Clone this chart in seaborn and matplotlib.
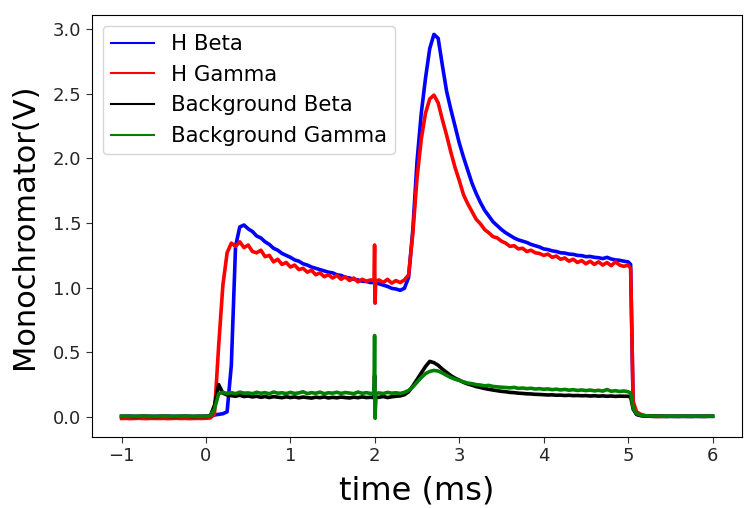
import numpy as np
import pandas as pd
import matplotlib
matplotlib.use("Agg")
import matplotlib.pyplot as plt
import seaborn as sns

# Sample times (ms): coarse grid plus extra samples around the 2 ms glitch and the 5 ms cut-off
t_ms = np.concatenate([
    np.arange(-1.0, 1.951, 0.05),      # -1.00 .. 1.95  (60)
    [1.99, 1.997, 2.003, 2.01],        # glitch          (4)
    np.arange(2.05, 4.951, 0.05),      # 2.05 .. 4.95   (59)
    [5.0, 5.03, 5.06, 5.1],            # cut-off         (4)
    np.arange(5.15, 6.001, 0.05),      # 5.15 .. 6.00   (18)
])

h_beta = (
    [0.004, 0.003, 0.005, 0.004, 0.003, 0.004, 0.005, 0.003, 0.004, 0.004,
     0.003, 0.005, 0.004, 0.003, 0.004, 0.005, 0.004, 0.003, 0.004, 0.004]
    + [0.005, 0.006, 0.015, 0.020, 0.025, 0.040, 0.400, 1.320, 1.470, 1.485]
    + [1.455, 1.435, 1.400, 1.385, 1.355, 1.335, 1.305, 1.290, 1.265, 1.250]
    + [1.235, 1.215, 1.205, 1.185, 1.175, 1.160, 1.150, 1.140, 1.130, 1.120]
    + [1.115, 1.100, 1.095, 1.080, 1.075, 1.065, 1.060, 1.050, 1.048, 1.040]
    + [1.040, 1.045, 1.035, 1.035]
    + [1.030, 1.020, 1.010, 0.995, 0.990, 0.980, 0.995, 1.080, 1.450]
    + [1.980, 2.350, 2.620, 2.850, 2.960, 2.930, 2.720, 2.520, 2.380, 2.250]
    + [2.120, 2.010, 1.910, 1.810, 1.730, 1.660, 1.600, 1.555, 1.510, 1.480]
    + [1.450, 1.425, 1.405, 1.385, 1.370, 1.360, 1.350, 1.335, 1.325, 1.315]
    + [1.300, 1.295, 1.285, 1.280, 1.270, 1.268, 1.260, 1.258, 1.250, 1.248]
    + [1.240, 1.242, 1.235, 1.232, 1.225, 1.235, 1.222, 1.215, 1.212, 1.205]
    + [1.200, 1.180, 0.080, 0.020]
    + [0.010, 0.007, 0.006, 0.005, 0.005, 0.006, 0.005, 0.005, 0.004,
       0.005, 0.005, 0.004, 0.005, 0.005, 0.004, 0.005, 0.005, 0.005]
)

h_gamma = (
    [-0.012, -0.011, -0.013, -0.012, -0.010, -0.012, -0.013, -0.011, -0.012, -0.012,
     -0.011, -0.013, -0.012, -0.010, -0.012, -0.011, -0.013, -0.012, -0.011, -0.012]
    + [-0.010, -0.008, 0.020, 0.550, 1.020, 1.270, 1.345, 1.320, 1.355, 1.310]
    + [1.330, 1.280, 1.270, 1.290, 1.240, 1.250, 1.200, 1.220, 1.180, 1.195]
    + [1.160, 1.175, 1.140, 1.150, 1.120, 1.135, 1.100, 1.115, 1.085, 1.100]
    + [1.075, 1.095, 1.065, 1.085, 1.055, 1.075, 1.045, 1.065, 1.050, 1.060]
    + [1.055, 1.330, 0.880, 1.050]
    + [1.060, 1.040, 1.065, 1.035, 1.055, 1.040, 1.060, 1.100, 1.420]
    + [1.850, 2.150, 2.350, 2.460, 2.490, 2.430, 2.300, 2.180, 2.050, 1.930]
    + [1.830, 1.720, 1.650, 1.590, 1.530, 1.495, 1.450, 1.425, 1.395, 1.385]
    + [1.360, 1.345, 1.320, 1.325, 1.300, 1.305, 1.280, 1.290, 1.270, 1.265]
    + [1.250, 1.260, 1.235, 1.245, 1.220, 1.230, 1.205, 1.220, 1.195, 1.210]
    + [1.185, 1.205, 1.180, 1.200, 1.175, 1.195, 1.170, 1.200, 1.175, 1.165]
    + [1.175, 1.150, 0.120, 0.040]
    + [0.020, 0.010, 0.006, 0.005, 0.004, 0.004] + [np.nan] * 12
)

bg_beta = (
    [0.004, 0.005, 0.004, 0.003, 0.004, 0.005, 0.004, 0.004, 0.003, 0.004,
     0.005, 0.004, 0.003, 0.004, 0.004, 0.005, 0.004, 0.003, 0.004, 0.004]
    + [0.004, 0.006, 0.090, 0.250, 0.185, 0.170, 0.165, 0.160, 0.168, 0.158]
    + [0.162, 0.155, 0.160, 0.152, 0.158, 0.150, 0.157, 0.153, 0.149, 0.156]
    + [0.150, 0.155, 0.148, 0.154, 0.150, 0.146, 0.153, 0.149, 0.155, 0.147]
    + [0.152, 0.148, 0.154, 0.150, 0.147, 0.153, 0.149, 0.155, 0.150, 0.152]
    + [0.150, 0.320, 0.030, 0.152]
    + [0.152, 0.158, 0.150, 0.156, 0.160, 0.163, 0.172, 0.195, 0.240]
    + [0.290, 0.340, 0.390, 0.430, 0.420, 0.400, 0.370, 0.345, 0.320, 0.300]
    + [0.285, 0.268, 0.255, 0.246, 0.235, 0.228, 0.220, 0.214, 0.208, 0.203]
    + [0.198, 0.195, 0.190, 0.188, 0.184, 0.182, 0.179, 0.178, 0.175, 0.174]
    + [0.172, 0.170, 0.171, 0.168, 0.169, 0.166, 0.168, 0.165, 0.166, 0.164]
    + [0.165, 0.162, 0.164, 0.161, 0.163, 0.160, 0.162, 0.159, 0.161, 0.160]
    + [0.160, 0.155, 0.060, 0.020]
    + [0.012, 0.008, 0.006, 0.005, 0.005, 0.005, 0.004, 0.005, 0.005,
       0.004, 0.005, 0.005, 0.004, 0.005, 0.005, 0.004, 0.005, 0.005]
)

bg_gamma = (
    [0.005, 0.006, 0.005, 0.004, 0.005, 0.006, 0.005, 0.005, 0.004, 0.005,
     0.006, 0.005, 0.004, 0.005, 0.005, 0.006, 0.005, 0.004, 0.005, 0.005]
    + [0.005, 0.007, 0.060, 0.180, 0.190, 0.182, 0.188, 0.180, 0.192, 0.184]
    + [0.186, 0.180, 0.191, 0.183, 0.188, 0.179, 0.193, 0.184, 0.187, 0.181]
    + [0.190, 0.182, 0.186, 0.195, 0.181, 0.188, 0.183, 0.192, 0.180, 0.187]
    + [0.184, 0.191, 0.182, 0.189, 0.185, 0.180, 0.193, 0.183, 0.188, 0.182]
    + [0.185, 0.630, -0.010, 0.183]
    + [0.186, 0.181, 0.190, 0.184, 0.187, 0.182, 0.190, 0.205, 0.232]
    + [0.268, 0.305, 0.335, 0.352, 0.360, 0.355, 0.340, 0.322, 0.305, 0.292]
    + [0.282, 0.272, 0.262, 0.258, 0.250, 0.247, 0.241, 0.244, 0.236, 0.233]
    + [0.230, 0.228, 0.225, 0.229, 0.221, 0.224, 0.219, 0.222, 0.216, 0.219]
    + [0.214, 0.217, 0.211, 0.215, 0.209, 0.213, 0.207, 0.211, 0.205, 0.209]
    + [0.204, 0.208, 0.202, 0.206, 0.200, 0.212, 0.199, 0.203, 0.197, 0.201]
    + [0.195, 0.185, 0.070, 0.025]
    + [0.015, 0.010, 0.008, 0.007, 0.006, 0.006, 0.005, 0.006, 0.006,
       0.005, 0.006, 0.006, 0.005, 0.006, 0.006, 0.005, 0.006, 0.006]
)

series_names = ["H Beta", "H Gamma", "Background Beta", "Background Gamma"]
series_values = [h_beta, h_gamma, bg_beta, bg_gamma]
series_colors = ["#0000ff", "#ff0000", "#000000", "#008000"]
x_ticks = [-1, 0, 1, 2, 3, 4, 5, 6]
y_ticks = [0.0, 0.5, 1.0, 1.5, 2.0, 2.5, 3.0]

for vals in series_values:
    assert len(vals) == len(t_ms)

fig = plt.figure(figsize=(7.44, 5.08), dpi=100)
ax = fig.add_axes([0.1237, 0.1398, 0.8737, 0.8307])

for name, vals, color in zip(series_names, series_values, series_colors):
    df = pd.DataFrame({"time": t_ms, "signal": vals}).dropna()
    sns.lineplot(data=df, x="time", y="signal", color=color, label=name,
                 estimator=None, sort=False, lw=2.6, ax=ax)

ax.set_xlim(-1.35, 6.35)
ax.set_ylim(-0.155, 3.11)
ax.set_xticks(x_ticks)
ax.set_yticks(y_ticks)
ax.set_yticklabels([f"{v:.1f}" for v in y_ticks])
ax.tick_params(labelsize=13, length=4, color="#333333", labelcolor="#262626")
ax.set_xlabel("time (ms)", fontsize=23, labelpad=7)
ax.set_ylabel("Monochromator(V)", fontsize=22, labelpad=10)

leg = ax.legend(loc="upper left", fontsize=15.3, frameon=True)
for h in leg.get_lines():
    h.set_linewidth(1.5)

fig.savefig("out.png", dpi=100)
